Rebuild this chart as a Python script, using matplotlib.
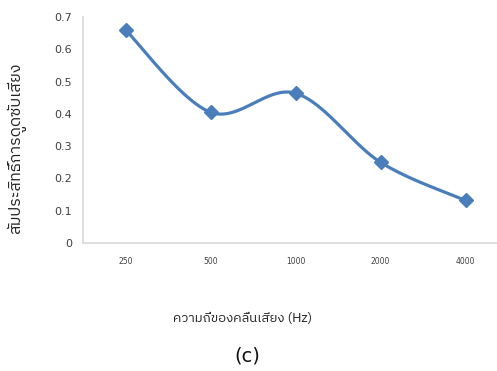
import numpy as np
import matplotlib.pyplot as plt
from matplotlib import font_manager

freqs = ['250', '500', '1000', '2000', '4000']
absorb = [0.66, 0.405, 0.464, 0.25, 0.132]
y_ticks = [0, 0.1, 0.2, 0.3, 0.4, 0.5, 0.6, 0.7]

# pick up any installed font with Thai glyphs
names = sorted({f.name for f in font_manager.fontManager.ttflist})
thai = [n for n in names if 'Thai' in n or n in ('Loma', 'Garuda', 'Norasi', 'Kinnari', 'Sawasdee', 'Waree')]
family = thai + ['DejaVu Sans']


def smooth(xs, ys, n=40):
    # catmull-rom through the points, like a spreadsheet "smoothed line"
    px = np.r_[xs[0], xs, xs[-1]]
    py = np.r_[ys[0], ys, ys[-1]]
    out_x, out_y = [], []
    t = np.linspace(0, 1, n)
    for i in range(1, len(px) - 2):
        for p, out in ((px, out_x), (py, out_y)):
            p0, p1, p2, p3 = p[i - 1], p[i], p[i + 1], p[i + 2]
            out.extend(0.5 * (2 * p1 + (-p0 + p2) * t
                              + (2 * p0 - 5 * p1 + 4 * p2 - p3) * t ** 2
                              + (-p0 + 3 * p1 - 3 * p2 + p3) * t ** 3))
    return out_x, out_y


x = np.arange(len(freqs), dtype=float)
sx, sy = smooth(x, np.array(absorb))

fig = plt.figure(figsize=(4.97, 3.71), dpi=100)
ax = fig.add_axes([83 / 497, 1 - 243 / 371, 425 / 497, 226 / 371])
ax.plot(sx, sy, color='#4a7ebb', lw=2.3, solid_capstyle='round')
ax.plot(x, absorb, ls='none', marker='D', ms=7, color='#4a7ebb')

ax.set_xlim(-0.5, 4.5)
ax.set_ylim(0, 0.7)
ax.set_yticks(y_ticks)
ax.set_yticklabels([f'{v:g}' for v in y_ticks], fontsize=8, color='#404040')
ax.set_xticks(x)
ax.set_xticklabels(freqs, fontsize=5.5, color='#404040')
ax.tick_params(length=0, pad=10)
ax.tick_params(axis='y', pad=8)
for s in ('top', 'right'):
    ax.spines[s].set_visible(False)
for s in ('left', 'bottom'):
    ax.spines[s].set_color('#d9d9d9')
    ax.spines[s].set_linewidth(1.2)

fig.text(16 / 497, 1 - 148 / 371, 'สัมประสิทธิ์การดูดซับเสียง', rotation=90,
         ha='center', va='center', fontsize=11.5, family=family, color='#222222')
fig.text(243 / 497, 1 - 319 / 371, 'ความถี่ของคลื่นเสียง (Hz)',
         ha='center', va='center', fontsize=9.5, family=family, color='#222222')
fig.text(247 / 497, 1 - 356 / 371, '(c)', ha='center', va='center',
         fontsize=14, color='#111111')

fig.savefig('out.png', dpi=100)
